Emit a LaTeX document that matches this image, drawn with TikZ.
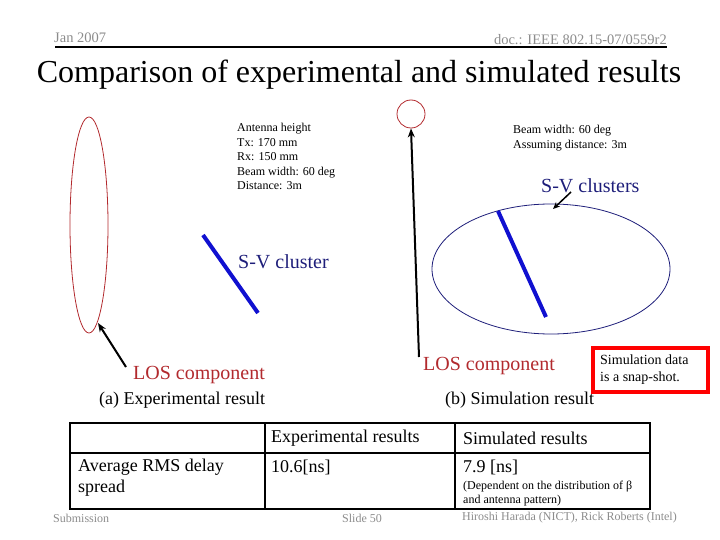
\documentclass[tikz,border=0pt]{standalone}
\usepackage{fontspec}
\setmainfont{Liberation Serif}
\usetikzlibrary{arrows.meta,shapes.geometric}
\definecolor{losred}{HTML}{B22A2E}
\definecolor{navy}{HTML}{1E1E7A}
\definecolor{beamblue}{HTML}{1010D0}
\definecolor{hdrgray}{HTML}{8C8C8C}
\tikzset{
  hdr/.style={text=hdrgray, font=\fontsize{12}{13}\selectfont, inner sep=0pt},
  small/.style={font=\fontsize{12}{14.5}\selectfont, inner sep=0pt, align=left},
  big/.style={font=\fontsize{18}{20}\selectfont, inner sep=0pt},
  los/.style={font=\fontsize{20}{22}\selectfont, inner sep=0pt, text=losred},
  sv/.style={font=\fontsize{20}{22}\selectfont, inner sep=0pt, text=navy},
  beam/.style={line width=4pt, beamblue},
  ptr/.style={line width=2pt, -{Stealth[length=9pt,width=7pt]}},
  cell/.style={font=\fontsize{18}{21}\selectfont, inner sep=0pt, align=left, anchor=west},
}
\begin{document}
\begin{tikzpicture}[x=1pt,y=-1pt]
\useasboundingbox (0,0) rectangle (720,540);
% header
\node[hdr, anchor=west, font=\fontsize{14.5}{15}\selectfont] (date) at (54,38) {Jan 2007};
\node[hdr, anchor=east, font=\fontsize{14.5}{15}\selectfont] (doc) at (667,40) {doc.: IEEE 802.15-07/0559r2};
\draw[line width=2pt] (55,47) coordinate (hl) -- (667,47) coordinate (hr);
% title
\node[font=\fontsize{32}{34}\selectfont, inner sep=0pt] (title) at (359,75) {Comparison of experimental and simulated results};
% left panel
\node[draw=losred, ellipse, minimum width=38pt, minimum height=216pt, inner sep=0pt, line width=0.8pt] (losL) at (89,225) {};
\coordinate (lt) at (126,367);
\draw[ptr] (lt) -- (98,323);
\node[los, anchor=west] (losLtxt) at (133,375) {LOS component};
\node[big, anchor=west] (capA) at (99,400) {(a) Experimental result};
\node[small, anchor=north west] (ant) at (237,123) {Antenna height\\Tx: 170 mm\\Rx: 150 mm\\Beam width: 60 deg\\Distance: 3m};
\coordinate (b1a) at (203,235);
\coordinate (b1b) at (258,313);
\draw[beam] (b1a) -- (b1b);
\node[sv, anchor=west] (svL) at (238,262) {S-V cluster};
% middle arrow + circle
\node[draw=losred, circle, minimum size=28pt, inner sep=0pt, line width=0.8pt] (circ) at (411,114) {};
\coordinate (mt) at (419,357);
\draw[ptr] (mt) -- (circ.south);
% right panel
\node[small, anchor=north west] (beamR) at (513,125) {Beam width: 60 deg\\Assuming distance: 3m};
\node[sv, anchor=west] (svR) at (541,186) {S-V clusters};
\node[draw=navy, ellipse, minimum width=238pt, minimum height=130pt, inner sep=0pt, line width=0.8pt] (ellR) at (551,269) {};
\coordinate (st) at (571,192);
\draw[line width=1.5pt, -{Stealth[length=7pt,width=6pt]}] (st) -- (553,209);
\coordinate (b2a) at (498,211);
\coordinate (b2b) at (546,317);
\draw[beam] (b2a) -- (b2b);
\node[los, anchor=west] (losRtxt) at (423,366) {LOS component};
\node[big, anchor=west] (capB) at (445,400) {(b) Simulation result};
\node[draw=red, line width=4pt, minimum width=115pt, minimum height=44pt, inner sep=0pt] (note) at (650.5,370) {};
\node[small, anchor=north west, font=\fontsize{14}{17}\selectfont] (notetxt) at (600,355) {Simulation data\\is a snap-shot.};
% table
\draw[line width=2pt] (70,423) rectangle (650,509);
\draw[line width=2pt] (70,453) -- (650,453);
\draw[line width=2pt] (265,423) -- (265,509);
\draw[line width=2pt] (455,423) -- (455,509);
\node[cell] (h1) at (271,438) {Experimental results};
\node[cell] (h2) at (463,438) {Simulated results};
\node[cell, anchor=north west] (r1) at (78,459) {Average RMS delay\\spread};
\node[cell] (r2) at (271,467) {10.6[ns]};
\node[cell] (r3) at (463,467) {7.9 [ns]};
\node[small, anchor=north west, font=\fontsize{12}{14}\selectfont] (r3b) at (463,481) {(Dependent on the distribution of β\\and antenna pattern)};
% footer
\node[hdr, anchor=west] (sub) at (53,518) {Submission};
\node[hdr] (slide) at (362,518) {Slide 50};
\node[hdr, anchor=east] (auth) at (677,518) {Hiroshi Harada (NICT), Rick Roberts (Intel)};
\end{tikzpicture}
\end{document}
